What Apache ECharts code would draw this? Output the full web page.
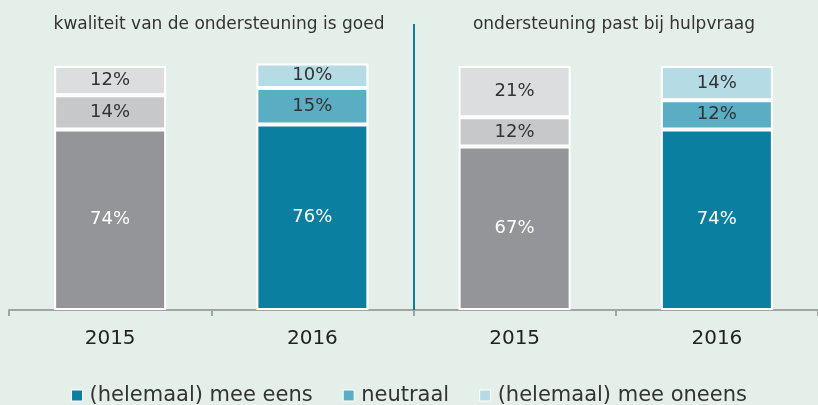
<!DOCTYPE html>
<html>
<head>
<meta charset="utf-8">
<script src="https://cdn.jsdelivr.net/npm/echarts@6/dist/echarts.min.js"></script>
<style>
  html, body { margin: 0; padding: 0; background: #e5efe9; }
  #main { width: 818px; height: 405px; }
</style>
</head>
<body>
<div id="main"></div>
<script>
var categories = ['2015', '2016', '2015', '2016'];
var panelTitles = ['kwaliteit van de ondersteuning is goed', 'ondersteuning past bij hulpvraag'];
var seriesNames = ['(helemaal) mee eens', 'neutraal', '(helemaal) mee oneens'];
var eens = [74, 76, 67, 74];
var neutraal = [14, 15, 12, 12];
var oneens = [12, 10, 21, 14];

// 2016 = blauw, 2015 = grijs
var blue = ['#0b7fa0', '#5badc3', '#b5dbe5'];
var grey = ['#939598', '#c7c8ca', '#dcdddf'];
var labelColors = ['#ffffff', '#333333', '#333333'];

var font = 'DejaVu Sans, Verdana, sans-serif';

function makeSeries(idx, values) {
  return {
    name: seriesNames[idx],
    type: 'bar',
    stack: 'totaal',
    barWidth: 112,
    itemStyle: { color: blue[idx], borderColor: '#ffffff', borderWidth: 2 },
    label: {
      show: true,
      position: 'inside',
      formatter: '{c}%',
      color: labelColors[idx],
      fontSize: 18,
      fontFamily: font
    },
    data: values.map(function (v, i) {
      if (categories[i] === '2015') {
        return { value: v, itemStyle: { color: grey[idx] } };
      }
      return v;
    })
  };
}

var chart = echarts.init(document.getElementById('main'));

var option = {
  backgroundColor: '#e5efe9',
  animation: false,
  title: [
    { text: panelTitles[0], left: 214, top: 11, textAlign: 'center',
      textStyle: { fontSize: 17, fontWeight: 'normal', color: '#333', fontFamily: font } },
    { text: panelTitles[1], left: 609, top: 11, textAlign: 'center',
      textStyle: { fontSize: 17, fontWeight: 'normal', color: '#333', fontFamily: font } }
  ],
  legend: {
    data: seriesNames,
    left: 'center',
    top: 380,
    itemWidth: 11,
    itemHeight: 11,
    itemGap: 30,
    icon: 'rect',
    itemStyle: { borderColor: '#ffffff', borderWidth: 1 },
    textStyle: { fontSize: 21, color: '#333', fontFamily: font, padding: [0, 0, 0, 2] }
  },
  grid: { left: 9, right: -5, top: 41.6, bottom: 95 },
  xAxis: {
    type: 'category',
    data: categories,
    boundaryGap: true,
    axisLine: { lineStyle: { color: '#a3a3a3', width: 2 } },
    axisTick: { show: true, interval: 0, alignWithLabel: false, length: 6,
      lineStyle: { color: '#a3a3a3', width: 2 } },
    axisLabel: { fontSize: 20, color: '#222', fontFamily: font, margin: 19 }
  },
  yAxis: {
    type: 'value',
    min: 0,
    max: 110,
    show: false,
    splitLine: { show: false }
  },
  graphic: [
    { type: 'line', shape: { x1: 414, y1: 24, x2: 414, y2: 310 },
      style: { stroke: '#0b7fa0', lineWidth: 2 }, z: 10 }
  ],
  series: [
    makeSeries(0, eens),
    makeSeries(1, neutraal),
    makeSeries(2, oneens)
  ]
};

chart.setOption(option);
</script>
</body>
</html>
